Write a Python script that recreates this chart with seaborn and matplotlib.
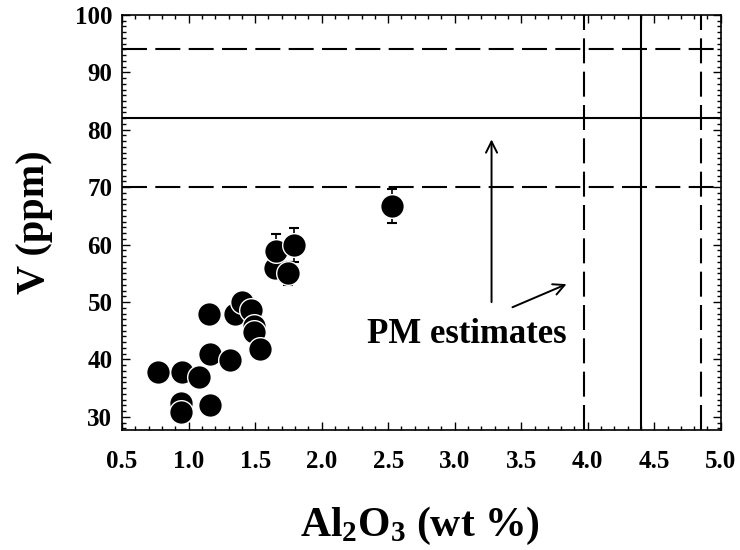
import matplotlib
matplotlib.use("Agg")
import matplotlib.pyplot as plt
import seaborn as sns
import pandas as pd
from matplotlib.ticker import MultipleLocator

# Data
al2o3 = [0.77, 0.95, 1.08, 0.94, 0.94, 1.16, 1.16, 1.15, 1.31, 1.35, 1.40, 1.47,
         1.49, 1.49, 1.54, 1.65, 1.66, 1.79, 1.75, 2.53]
v_ppm = [37.9, 37.9, 36.9, 32.5, 30.8, 32.0, 41.0, 47.9, 39.9, 47.9, 50.0, 48.6,
         45.8, 44.8, 41.8, 55.9, 58.9, 59.9, 55.0, 66.7]
v_err = [0, 0, 0, 0, 0, 0, 0, 0, 0, 0, 0, 0,
         0, 0, 0, 0, 2.9, 3.0, 2.0, 3.0]

# PM estimates (primitive mantle)
pm_v = [70, 82, 94]            # low, mean, high
pm_al = [3.97, 4.40, 4.85]     # low, mean, high

x_ticks = [0.5, 1.0, 1.5, 2.0, 2.5, 3.0, 3.5, 4.0, 4.5, 5.0]
y_ticks = [30, 40, 50, 60, 70, 80, 90, 100]

df = pd.DataFrame({"Al2O3": al2o3, "V": v_ppm, "err": v_err})

sns.set_theme(style="ticks")
plt.rcParams["font.family"] = ["Liberation Serif", "DejaVu Serif"]
plt.rcParams["font.weight"] = "bold"
plt.rcParams["text.color"] = "black"
plt.rcParams["axes.labelcolor"] = "black"
plt.rcParams["xtick.color"] = "black"
plt.rcParams["ytick.color"] = "black"
plt.rcParams["mathtext.fontset"] = "custom"
plt.rcParams["mathtext.rm"] = "Liberation Serif:bold"
plt.rcParams["mathtext.bf"] = "Liberation Serif:bold"
plt.rcParams["mathtext.it"] = "Liberation Serif:bold"

fig = plt.figure(figsize=(7.4, 5.5), dpi=100)
ax = fig.add_axes([0.165, 0.218, 0.809, 0.755])

dash = (12, 4)
for i, yv in enumerate(pm_v):
    if i == 1:
        ax.axhline(yv, color="black", lw=1.5, zorder=1)
    else:
        ax.axhline(yv, color="black", lw=1.5, dashes=dash, zorder=1)
for i, xv in enumerate(pm_al):
    if i == 1:
        ax.axvline(xv, color="black", lw=1.5, zorder=1)
    else:
        ax.axvline(xv, color="black", lw=1.5, dashes=dash, zorder=1)

eb = df[df["err"] > 0]
ax.errorbar(eb["Al2O3"], eb["V"], yerr=eb["err"], fmt="none", ecolor="black",
            elinewidth=1.2, capsize=3.6, capthick=1.5, zorder=2)

sns.scatterplot(data=df, x="Al2O3", y="V", ax=ax, s=290, color="black",
                edgecolor="white", linewidth=1.0, zorder=3, legend=False)

ax.annotate("", xy=(3.277, 78.8), xytext=(3.277, 49.5),
            arrowprops=dict(arrowstyle="->", color="black", lw=1.4,
                            mutation_scale=20))
ax.annotate("", xy=(3.86, 53.3), xytext=(3.415, 48.9),
            arrowprops=dict(arrowstyle="->", color="black", lw=1.4,
                            mutation_scale=20))
ax.text(3.09, 44.3, "PM estimates", ha="center", va="center",
        fontsize=25, fontweight="bold", color="black")

ax.set_xlim(0.5, 5.0)
ax.set_ylim(27.7, 100)
ax.set_xticks(x_ticks)
ax.set_xticklabels([f"{t:.1f}" for t in x_ticks])
ax.set_yticks(y_ticks)
ax.set_yticklabels([str(t) for t in y_ticks])
ax.xaxis.set_minor_locator(MultipleLocator(0.1))
ax.yaxis.set_minor_locator(MultipleLocator(1))
ax.tick_params(which="both", direction="in", top=True, right=True,
               colors="black", width=1.0)
ax.tick_params(which="major", length=6, labelsize=18)
ax.tick_params(axis="x", which="major", pad=14)
ax.tick_params(axis="y", which="major", pad=7)
ax.tick_params(which="minor", length=3)
for lab in ax.get_xticklabels() + ax.get_yticklabels():
    lab.set_fontweight("bold")
for sp in ax.spines.values():
    sp.set_linewidth(1.2)
    sp.set_color("black")

ax.set_xlabel(r"Al$_2$O$_3$ (wt %)", fontsize=30, fontweight="bold")
ax.set_ylabel("V (ppm)", fontsize=29, fontweight="bold")
ax.xaxis.set_label_coords(0.497, -0.18)
ax.yaxis.set_label_coords(-0.115, 0.5)

fig.savefig("out.png", dpi=100)
